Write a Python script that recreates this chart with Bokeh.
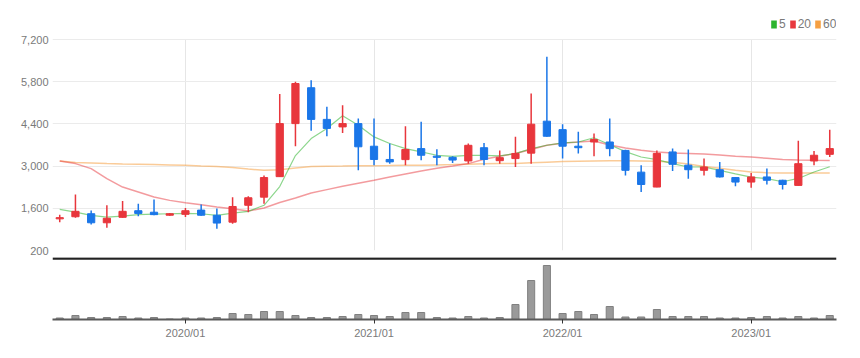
import pandas as pd
from bokeh.plotting import figure
from bokeh.models import (ColumnDataSource, Range1d, FixedTicker, NumeralTickFormatter,
                          Legend, LegendItem, Span)
from bokeh.layouts import column
from bokeh.embed import file_html
from bokeh.resources import INLINE

# ---------------- data ----------------
months = pd.period_range("2019-05", "2023-06", freq="M").strftime("%Y/%m").tolist()

opens = [1250, 1320, 1420, 1120, 1300, 1520, 1470, 1370, 1400, 1540,
         1370, 1140, 1700, 1970, 2650, 4410, 5600, 4550, 4300, 4410,
         3660, 3220, 3215, 3580, 3330, 3290, 3170, 3610, 3180, 3250,
         3430, 4490, 4210, 3660, 3800, 3800, 3520, 2800, 2305, 3470,
         3030, 2860, 2880, 2620, 2470, 2640, 2530, 2360, 3170, 3390]
highs = [1390, 2060, 1530, 1700, 1840, 1750, 1890, 1440, 1610, 1730,
         1590, 1970, 2000, 2690, 5390, 5800, 5850, 4970, 5020, 4580,
         4580, 3750, 4320, 4470, 3560, 3330, 3750, 3770, 3520, 3970,
         5410, 6630, 4390, 4140, 4080, 4580, 3540, 3030, 3520, 3580,
         3550, 3250, 3140, 2640, 2770, 2920, 2550, 3840, 3500, 4210]
lows = [1140, 1290, 1065, 955, 1290, 1340, 1370, 1350, 1310, 1350,
        920, 1090, 1470, 1750, 2640, 3660, 4170, 3990, 4100, 2860,
        3030, 3080, 3030, 3190, 3030, 3100, 3080, 3030, 3080, 2970,
        3080, 3970, 3250, 3420, 3330, 3330, 2690, 2140, 2300, 2840,
        2580, 2690, 2620, 2330, 2280, 2390, 2220, 2360, 3030, 3300]
closes = [1290, 1500, 1120, 1270, 1500, 1430, 1390, 1420, 1520, 1370,
          1110, 1660, 1950, 2620, 4410, 5740, 4550, 4250, 4410, 3640,
          3220, 3140, 3550, 3360, 3290, 3200, 3690, 3220, 3280, 3420,
          4390, 3990, 3660, 3610, 3880, 3580, 2860, 2390, 3420, 3060,
          2880, 2970, 2640, 2470, 2640, 2530, 2390, 3080, 3360, 3580]
volume = [150, 400, 200, 200, 300, 150, 200, 50, 150, 150,
          200, 600, 500, 800, 800, 400, 200, 200, 300, 500,
          400, 300, 700, 700, 200, 150, 300, 150, 200, 1500,
          3900, 5400, 600, 800, 500, 1300, 250, 250, 1000, 300,
          300, 300, 150, 150, 200, 300, 150, 300, 150, 400]
ma5 = [1563, 1474, 1364, 1307, 1340, 1387, 1407, 1420, 1430, 1420,
       1364, 1440, 1497, 1700, 2320, 3350, 3914, 4247, 4670, 4356,
       3968, 3748, 3581, 3470, 3359, 3325, 3359, 3359, 3340, 3415,
       3581, 3691, 3768, 3800, 3940, 3710, 3480, 3303, 3215, 3083,
       2970, 2970, 2860, 2740, 2637, 2584, 2480, 2590, 2803, 2980]
ma20 = [3170, 3083, 2916, 2584, 2305, 2138, 1972, 1863, 1785, 1719,
        1640, 1587, 1510, 1610, 1790, 1940, 2110, 2220, 2330, 2430,
        2527, 2640, 2740, 2840, 2930, 3000, 3083, 3230, 3330, 3415,
        3550, 3690, 3760, 3800, 3834, 3700, 3600, 3525, 3470, 3436,
        3420, 3400, 3370, 3330, 3300, 3260, 3215, 3200, 3190, 3185]
ma60 = [3170, 3116, 3100, 3083, 3070, 3060, 3050, 3040, 3026, 3003,
        2990, 2950, 2900, 2860, 2880, 2940, 2985, 2995, 3000, 3010,
        3015, 3020, 3026, 3030, 3040, 3050, 3065, 3075, 3083, 3090,
        3110, 3130, 3150, 3160, 3170, 3175, 3175, 3170, 3160, 3130,
        3070, 2990, 2930, 2860, 2803, 2780, 2770, 2770, 2770, 2770]

tick_labels = ["2020/01", "2021/01", "2022/01", "2023/01"]
price_ticks = [200, 1600, 3000, 4400, 5800, 7200]
legend_labels = ["5", "20", "60"]

# ---------------- styles ----------------
UP, DOWN = "#e8363c", "#1a76e8"
C5, C20, C60 = "#2db52d", "#e8383d", "#f5a043"
FONT = "'Liberation Sans Narrow', 'Liberation Sans', sans-serif"
FONT_SIZE = "11px"
LABEL_COLOR = "#7a7a7a"

idx = list(range(len(months)))
tick_idx = [months.index(t) for t in tick_labels]

up = [c >= o for o, c in zip(opens, closes)]
src = ColumnDataSource(dict(
    x=idx, o=opens, h=highs, l=lows, c=closes,
    top=[max(o, c) for o, c in zip(opens, closes)],
    bot=[min(o, c) for o, c in zip(opens, closes)],
    color=[UP if u else DOWN for u in up],
    vol=volume,
))

x_range = Range1d(-0.46, 49.43)
FRAME_W = 784

# price panel: frame 238px, 200 at bottom, 7200 located 27px below the top
p1_fh = 238
scale = 211 / 7000.0
p1 = figure(frame_width=FRAME_W, frame_height=p1_fh, x_range=x_range,
            y_range=Range1d(200, 7200 + 27 / scale),
            x_axis_location=None, output_backend="svg", toolbar_location=None,
            min_border_left=52, min_border_right=16, min_border_top=12, min_border_bottom=7)
p1.outline_line_color = None
p1.background_fill_color = "white"
p1.border_fill_color = "white"

p1.yaxis.ticker = FixedTicker(ticks=price_ticks)
p1.yaxis.formatter = NumeralTickFormatter(format="0,0")
p1.yaxis.axis_line_color = None
p1.yaxis.major_tick_line_color = None
p1.yaxis.minor_tick_line_color = None
p1.yaxis.major_tick_out = 0
p1.yaxis.major_tick_in = 0
p1.yaxis.minor_tick_out = 0
p1.yaxis.minor_tick_in = 0
p1.yaxis.major_label_standoff = 4
p1.yaxis.major_label_text_font = FONT
p1.yaxis.major_label_text_font_size = FONT_SIZE
p1.yaxis.major_label_text_color = LABEL_COLOR

p1.ygrid.grid_line_color = "#ebebeb"
p1.ygrid.grid_line_width = 1
p1.xgrid.ticker = FixedTicker(ticks=tick_idx)
p1.xgrid.grid_line_color = "#e6e6e6"
p1.xgrid.cross_bounds = (min(price_ticks), max(price_ticks))

# moving averages (behind candles)
p1.line(idx, ma60, line_color=C60, line_width=1.5, line_alpha=0.55)
p1.line(idx, ma20, line_color=C20, line_width=1.5, line_alpha=0.5)
p1.line(idx, ma5, line_color=C5, line_width=1.2, line_alpha=0.55)

# candles
p1.segment(x0="x", y0="h", x1="x", y1="l", line_color="color", line_width=1.5, source=src)
p1.vbar(x="x", top="top", bottom="bot", width=0.46, fill_color="color",
        line_color="color", line_width=1, source=src)

# legend (swatch-only renderers holding no visible data)
nan = float("nan")
dummy = []
for col in (C5, C20, C60):
    dummy.append(p1.vbar(x=[nan], top=[nan], bottom=[nan], width=0.5,
                         fill_color=col, line_color=None))
legend = Legend(items=[LegendItem(label=lab, renderers=[r]) for lab, r in zip(legend_labels, dummy)],
                orientation="horizontal", location=(718, 219),
                glyph_width=7, glyph_height=10, label_standoff=2, spacing=3,
                label_width=0, padding=0, margin=0, border_line_color=None,
                background_fill_alpha=0,
                label_text_font=FONT, label_text_font_size="12px",
                label_text_color=LABEL_COLOR, label_height=12)
p1.add_layout(legend)

# volume panel
p2_fh = 62
vmax = 6200
p2 = figure(frame_width=FRAME_W, frame_height=p2_fh, x_range=x_range,
            y_range=Range1d(0, vmax), y_axis_location=None,
            output_backend="svg", toolbar_location=None,
            min_border_left=52, min_border_right=16, min_border_top=0, min_border_bottom=4)
p2.outline_line_color = None
p2.grid.visible = False
p2.vbar(x="x", top="vol", width=0.45, fill_color="#9a9a9a", line_color="#808080",
        line_width=1, source=src)
p2.add_layout(Span(location=vmax - 100, dimension="width", line_color="#222222", line_width=2.5))

p2.xaxis.ticker = FixedTicker(ticks=tick_idx)
p2.xaxis.major_label_overrides = {i: t for i, t in zip(tick_idx, tick_labels)}
p2.xaxis.axis_line_color = "#5a5a5a"
p2.xaxis.axis_line_width = 2
p2.xaxis.major_tick_line_color = "#333333"
p2.xaxis.major_tick_out = 4
p2.xaxis.major_tick_in = 0
p2.xaxis.minor_tick_line_color = None
p2.xaxis.minor_tick_out = 0
p2.xaxis.minor_tick_in = 0
p2.xaxis.major_label_standoff = 3
p2.xaxis.major_label_text_font = FONT
p2.xaxis.major_label_text_font_size = FONT_SIZE
p2.xaxis.major_label_text_color = LABEL_COLOR

layout = column(p1, p2, spacing=0)
open("out.html", "w").write(file_html(layout, INLINE))
